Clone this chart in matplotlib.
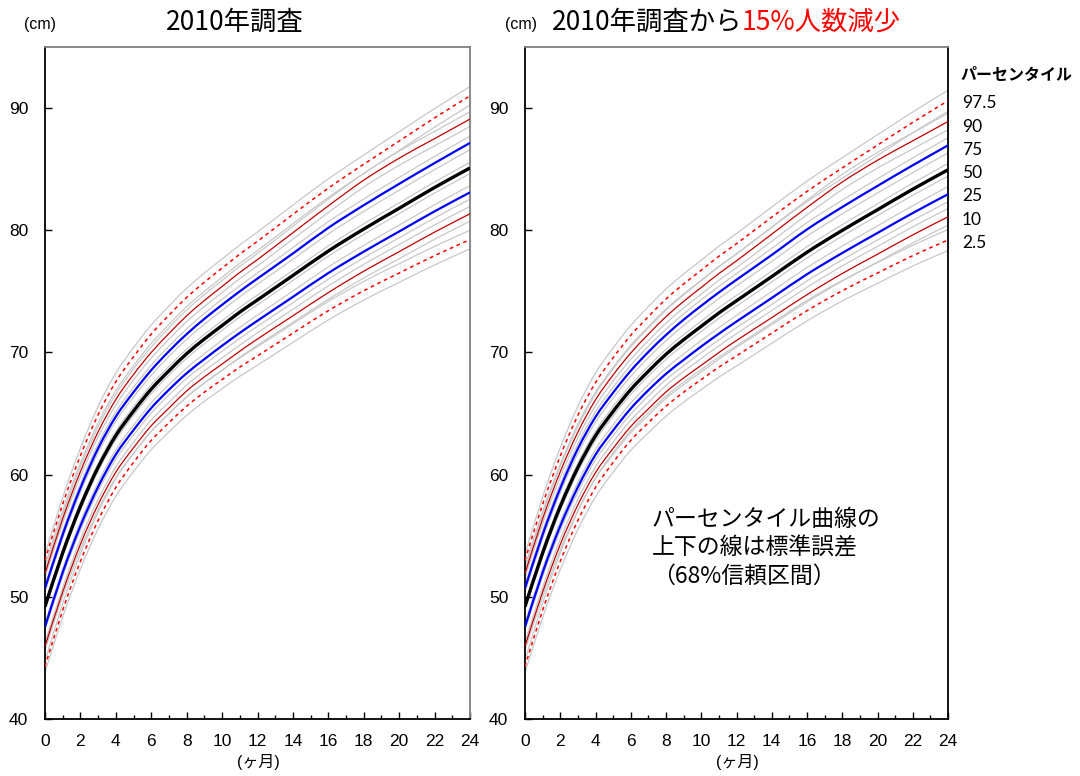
import matplotlib
matplotlib.use("Agg")
import matplotlib.pyplot as plt
from matplotlib.path import Path
from matplotlib.patches import PathPatch

plt.rcParams['font.family'] = ['Liberation Sans', 'Noto Sans CJK JP']

months = [0, 1, 2, 3, 4, 5, 6, 7, 8, 9, 10, 11, 12, 14, 16, 18, 20, 22, 24]
pct_labels = ['97.5', '90', '75', '50', '25', '10', '2.5']

# 2010 survey, height percentiles (cm)
l975 = [53.0, 57.6, 61.55, 64.9, 67.6, 69.65, 71.5, 73.05, 74.5, 75.75, 76.9, 78.05, 79.1, 81.3, 83.45, 85.4, 87.3, 89.2, 91.0]
l90 = [51.9, 56.4, 60.25, 63.5, 66.15, 68.2, 70.0, 71.55, 73.0, 74.25, 75.4, 76.55, 77.6, 79.8, 82.0, 84.1, 85.9, 87.5, 89.1]
l75 = [50.7, 55.1, 58.9, 62.15, 64.75, 66.75, 68.55, 70.1, 71.5, 72.75, 73.9, 75.0, 76.05, 78.1, 80.2, 82.05, 83.8, 85.5, 87.15]
l50 = [49.2, 53.6, 57.4, 60.6, 63.2, 65.2, 67.0, 68.5, 69.9, 71.1, 72.2, 73.3, 74.3, 76.3, 78.3, 80.1, 81.8, 83.5, 85.1]
l25 = [47.55, 52.0, 55.8, 59.0, 61.65, 63.65, 65.45, 66.95, 68.3, 69.45, 70.55, 71.6, 72.6, 74.55, 76.5, 78.25, 79.9, 81.55, 83.1]
l10 = [45.95, 50.4, 54.3, 57.55, 60.2, 62.2, 64.0, 65.45, 66.85, 68.0, 69.05, 70.1, 71.1, 73.0, 74.9, 76.65, 78.25, 79.85, 81.35]
l025 = [44.3, 48.9, 52.9, 56.25, 58.95, 61.0, 62.8, 64.25, 65.6, 66.75, 67.78, 68.8, 69.72, 71.58, 73.42, 75.05, 76.5, 77.92, 79.24]

# standard errors of the left curves
se_outer_l = [0.45, 0.55, 0.62, 0.68, 0.72, 0.74, 0.75, 0.75, 0.75, 0.75, 0.75, 0.75, 0.76, 0.76, 0.76, 0.76, 0.76, 0.76, 0.76]
se_mid_l = [0.3, 0.35, 0.4, 0.42, 0.44, 0.45, 0.46, 0.47, 0.48, 0.49, 0.5, 0.5, 0.51, 0.53, 0.55, 0.56, 0.58, 0.59, 0.6]
se_inner_l = [0.25, 0.3, 0.34, 0.36, 0.38, 0.4, 0.41, 0.42, 0.43, 0.44, 0.45, 0.45, 0.46, 0.48, 0.5, 0.51, 0.52, 0.54, 0.55]
se_med_l = [0.22, 0.27, 0.3, 0.32, 0.34, 0.35, 0.36, 0.37, 0.38, 0.38, 0.39, 0.4, 0.4, 0.41, 0.42, 0.43, 0.44, 0.45, 0.46]

# 15% fewer samples
r975 = [53.0, 57.58, 61.52, 64.85, 67.53, 69.57, 71.4, 72.93, 74.37, 75.6, 76.73, 77.87, 78.9, 81.07, 83.18, 85.1, 86.97, 88.83, 90.6]
r90 = [51.9, 56.39, 60.23, 63.48, 66.12, 68.16, 69.95, 71.49, 72.93, 74.18, 75.32, 76.46, 77.5, 79.68, 81.87, 83.95, 85.73, 87.32, 88.9]
r75 = [50.7, 55.09, 58.88, 62.12, 64.72, 66.71, 68.5, 70.04, 71.43, 72.68, 73.82, 74.91, 75.95, 77.98, 80.07, 81.9, 83.63, 85.32, 86.95]
r50 = [49.2, 53.59, 57.39, 60.58, 63.18, 65.17, 66.96, 68.46, 69.85, 71.04, 72.14, 73.23, 74.23, 76.21, 78.2, 79.99, 81.68, 83.36, 84.95]
r25 = [47.55, 51.99, 55.79, 58.98, 61.63, 63.62, 65.41, 66.91, 68.25, 69.39, 70.49, 71.53, 72.53, 74.46, 76.4, 78.14, 79.78, 81.41, 82.95]
r10 = [45.95, 50.39, 54.28, 57.52, 60.16, 62.15, 63.94, 65.38, 66.77, 67.91, 68.95, 69.99, 70.98, 72.85, 74.73, 76.46, 78.04, 79.62, 81.1]
r025 = [44.3, 48.9, 52.9, 56.25, 58.95, 61.0, 62.8, 64.25, 65.6, 66.75, 67.78, 68.8, 69.72, 71.58, 73.42, 75.05, 76.5, 77.92, 79.2]

se_outer_r = [0.5, 0.6, 0.68, 0.74, 0.78, 0.8, 0.81, 0.82, 0.82, 0.82, 0.82, 0.82, 0.83, 0.83, 0.84, 0.84, 0.85, 0.85, 0.86]
se_mid_r = [0.33, 0.39, 0.44, 0.46, 0.48, 0.5, 0.51, 0.52, 0.53, 0.54, 0.55, 0.55, 0.56, 0.58, 0.6, 0.62, 0.64, 0.66, 0.68]
se_inner_r = [0.28, 0.33, 0.37, 0.4, 0.42, 0.44, 0.45, 0.46, 0.47, 0.48, 0.49, 0.5, 0.5, 0.53, 0.55, 0.56, 0.58, 0.6, 0.62]
se_med_r = [0.24, 0.3, 0.33, 0.35, 0.37, 0.38, 0.39, 0.4, 0.41, 0.42, 0.43, 0.44, 0.44, 0.45, 0.46, 0.47, 0.48, 0.5, 0.52]

# line style per percentile: color, width, dashed
styles = [('#ff0000', 1.1, True), ('#c00000', 0.9, False), ('#0000ff', 1.6, False),
          ('#000000', 2.4, False), ('#0000ff', 1.6, False), ('#c00000', 0.9, False),
          ('#ff0000', 1.1, True)]

JP = 'Noto Sans CJK JP'


def smooth_line(ax, xs, ys, **kw):
    # smoothed line through the points (Catmull-Rom as cubic Bezier)
    pts = list(zip(xs, ys))
    n = len(pts)
    verts = [pts[0]]
    codes = [Path.MOVETO]
    for i in range(n - 1):
        p0 = pts[i - 1] if i > 0 else pts[i]
        p1 = pts[i]
        p2 = pts[i + 1]
        p3 = pts[i + 2] if i + 2 < n else p2
        c1 = (p1[0] + (p2[0] - p0[0]) / 6, p1[1] + (p2[1] - p0[1]) / 6)
        c2 = (p2[0] - (p3[0] - p1[0]) / 6, p2[1] - (p3[1] - p1[1]) / 6)
        verts += [c1, c2, p2]
        codes += [Path.CURVE4] * 3
    ax.add_patch(PathPatch(Path(verts, codes), facecolor='none', **kw))


def draw_panel(ax, curves, ses, right_black):
    # gray standard error lines first
    for c, se in zip(curves, ses):
        smooth_line(ax, months, [v + s for v, s in zip(c, se)], edgecolor='#c8c8c8', lw=0.9, zorder=1)
        smooth_line(ax, months, [v - s for v, s in zip(c, se)], edgecolor='#c8c8c8', lw=0.9, zorder=1)
    for c, (col, lw, dashed) in zip(curves, styles):
        ls = (0, (2.4, 2.4)) if dashed else '-'
        smooth_line(ax, months, c, edgecolor=col, lw=lw, linestyle=ls, zorder=3)

    ax.set_xlim(0, 24)
    ax.set_ylim(40, 95)
    ax.set_xticks(range(0, 25, 2))
    ax.set_xticks(range(0, 25), minor=True)
    ax.set_yticks(range(40, 91, 10))
    ax.tick_params(direction='in', length=5, width=1, labelsize=12.5)
    ax.tick_params(which='minor', direction='in', length=3, width=1)
    ax.tick_params(axis='x', pad=11)
    ax.tick_params(axis='y', pad=12)
    for s in ['left', 'bottom']:
        ax.spines[s].set_color('black')
        ax.spines[s].set_linewidth(1.3)
    ax.spines['top'].set_color('#808080')
    ax.spines['top'].set_linewidth(1.3)
    ax.spines['right'].set_color('black' if right_black else '#808080')
    ax.spines['right'].set_linewidth(1.3)


fig = plt.figure(figsize=(10.8, 7.76), dpi=100)
ax1 = fig.add_axes([45 / 1080, 57 / 776, 425 / 1080, 672 / 776])
ax2 = fig.add_axes([525 / 1080, 57 / 776, 423 / 1080, 672 / 776])

draw_panel(ax1, [l975, l90, l75, l50, l25, l10, l025],
           [se_outer_l, se_mid_l, se_inner_l, se_med_l, se_inner_l, se_mid_l, se_outer_l], False)
draw_panel(ax2, [r975, r90, r75, r50, r25, r10, r025],
           [se_outer_r, se_mid_r, se_inner_r, se_med_r, se_inner_r, se_mid_r, se_outer_r], True)

# titles and unit labels
fig.text(40 / 1080, 1 - 24 / 776, '(cm)', fontsize=11.5, ha='center', va='center')
fig.text(521 / 1080, 1 - 24 / 776, '(cm)', fontsize=11.5, ha='center', va='center')
fig.text(235 / 1080, 1 - 22 / 776, '2010年調査', fontsize=19, ha='center', va='center', family=JP)
fig.text(742 / 1080, 1 - 22 / 776, '2010年調査から', fontsize=19, ha='right', va='center', family=JP)
fig.text(742 / 1080, 1 - 22 / 776, '15%人数減少', fontsize=19, ha='left', va='center',
         family=JP, color='#ff0000')
fig.text(258 / 1080, 1 - 762 / 776, '(ヶ月)', fontsize=11.5, ha='center', va='center')
fig.text(737 / 1080, 1 - 762 / 776, '(ヶ月)', fontsize=11.5, ha='center', va='center')

# percentile legend at the right edge
fig.text(960 / 1080, 1 - 75 / 776, 'パーセンタイル', fontsize=11.5, ha='left', va='center',
         family=JP, fontweight='bold')
label_y = [103, 127, 150, 173, 196, 220, 243]
for lab, yy in zip(pct_labels, label_y):
    fig.text(962 / 1080, 1 - yy / 776, lab, fontsize=12.5, ha='left', va='center', family='Lato')

ax2.text(0.30, 0.255, 'パーセンタイル曲線の\n上下の線は標準誤差\n（68%信頼区間）',
         transform=ax2.transAxes, fontsize=16.5, ha='left', va='center', family=JP,
         linespacing=1.3)

fig.savefig('out.png', dpi=100)
